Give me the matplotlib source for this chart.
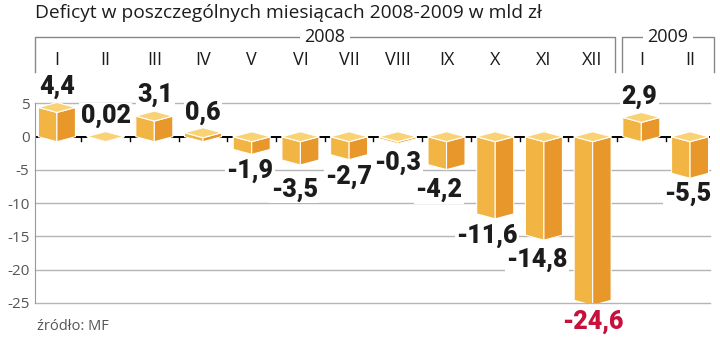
import matplotlib
matplotlib.use("Agg")

import matplotlib.pyplot as plt
import matplotlib.transforms as mtransforms
from matplotlib.patches import Polygon

# data
months = ["I", "II", "III", "IV", "V", "VI", "VII", "VIII", "IX", "X", "XI", "XII", "I", "II"]
deficit = [4.4, 0.02, 3.1, 0.6, -1.9, -3.5, -2.7, -0.3, -4.2, -11.6, -14.8, -24.6, 2.9, -5.5]
value_labels = ["4,4", "0,02", "3,1", "0,6", "-1,9", "-3,5", "-2,7", "-0,3", "-4,2",
                "-11,6", "-14,8", "-24,6", "2,9", "-5,5"]
years = ["2008", "2009"]
year_months = [12, 2]
y_ticks = [5, 0, -5, -10, -15, -20, -25]

# label nudges in pixels (dx, extra dy)
nudge = [(0, 0), (0, 0), (1, 1), (0, 0), (-2, 0), (-6, 8), (0, 1), (0, 3), (-8, 4),
         (-8, 0), (-7, 3), (0, 0), (-2, 0), (-2, -1)]

HALF_W = 0.38   # half bar width (x units)
DEPTH = 0.75    # rhombus half height (y units)
C_LEFT = "#f2b443"
C_RIGHT = "#e8982b"
C_TOP = "#fad276"
GRID = "#b5b5b5"
TXT = "#1c1c1c"

plt.rcParams["font.family"] = ["Open Sans", "DejaVu Sans"]

fig = plt.figure(figsize=(7.2, 3.42), dpi=100)
ax = fig.add_axes([35 / 720, 1 - 303 / 342, 675 / 720, 231 / 342])
ax.set_xlim(-0.45, 13.41)
ax.set_ylim(-25, 9.73)

# grid lines
for t in y_ticks:
    if t != 0:
        ax.axhline(t, color=GRID, lw=1.0, zorder=1, clip_on=False)
ax.axhline(0, color="black", lw=1.4, zorder=2)
for i in range(len(deficit) - 1):
    ax.plot([i + 0.5, i + 0.5], [0, -0.6], color="black", lw=1.0, zorder=2)

# pseudo-3D bars
for i, v in enumerate(deficit):
    top = max(v, 0)
    bot = min(v, 0)
    left = [(i - HALF_W, top), (i, top - DEPTH), (i, bot - DEPTH), (i - HALF_W, bot)]
    right = [(i, top - DEPTH), (i + HALF_W, top), (i + HALF_W, bot), (i, bot - DEPTH)]
    lid = [(i - HALF_W, top), (i, top + DEPTH), (i + HALF_W, top), (i, top - DEPTH)]
    for pts, col in [(left, C_LEFT), (right, C_RIGHT), (lid, C_TOP)]:
        ax.add_patch(Polygon(pts, closed=True, facecolor=col, edgecolor="white",
                             lw=0.8, zorder=3, joinstyle="round"))

# value labels
for i, (v, lab) in enumerate(zip(deficit, value_labels)):
    dx, dy = nudge[i]
    if v >= 0:
        y = v + DEPTH
        off = (dx * 0.72, 11 + dy * 0.72)
    else:
        y = v - DEPTH
        off = (dx * 0.72, -12 - dy * 0.72)
    col = "#c8103c" if v == min(deficit) else TXT
    ax.annotate(lab, (i, y), xytext=off, textcoords="offset points",
                ha="center", va="center", fontsize=18, fontweight="heavy",
                color=col, family=["Roboto", "DejaVu Sans"], zorder=5,
                annotation_clip=False,
                bbox=dict(boxstyle="square,pad=0.06", fc="white", ec="none"))

# axes styling
for s in ["top", "right", "bottom"]:
    ax.spines[s].set_visible(False)
ax.spines["left"].set_color("#999999")
ax.spines["left"].set_bounds(-25, 5)
ax.set_xticks([])
ax.set_yticks(y_ticks)
ax.set_yticklabels([str(t) for t in y_ticks], color="#555555", fontsize=11)
ax.tick_params(axis="y", length=0, pad=4)

# header: year brackets and month names
trans = mtransforms.blended_transform_factory(ax.transData, ax.transAxes)
y_line = (303 - 37) / 231
y_month = (303 - 60) / 231
start = 0
pads = [(0.45, 0.46), (0.4, 0.5)]
for year, n, (pl, pr) in zip(years, year_months, pads):
    x0 = start - pl
    x1 = start + n - 1 + pr
    ax.plot([x0, x0, x1, x1], [1.0, y_line, y_line, 1.0], transform=trans,
            color="#888888", lw=1.0, clip_on=False)
    ax.text((x0 + x1) / 2, y_line, year, transform=trans, ha="center", va="center",
            fontsize=13, color=TXT,
            bbox=dict(boxstyle="square,pad=0.25", fc="white", ec="none"))
    start += n
for i, m in enumerate(months):
    ax.text(i, y_month, m, transform=trans, ha="center", va="center",
            fontsize=13, color=TXT)

fig.text(35 / 720, 1 - 13 / 342, "Deficyt w poszczególnych miesiącach 2008-2009 w mld zł",
         ha="left", va="center", fontsize=13.8, color=TXT)
fig.text(37 / 720, 1 - 326 / 342, "źródło: MF", ha="left", va="center",
         fontsize=10.5, color="#555555")

fig.savefig("out.png", dpi=100)
